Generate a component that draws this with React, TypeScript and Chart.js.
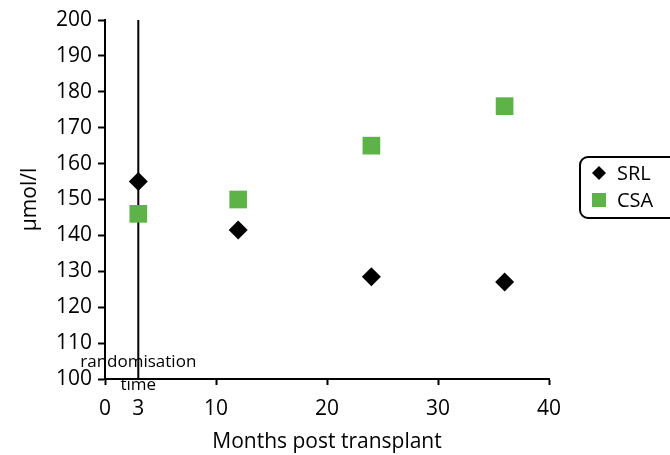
import React, { useEffect, useRef } from "react";
import { Chart, registerables } from "chart.js";

Chart.register(...registerables);

const months = [3, 12, 24, 36];
const srlValues = [155, 141.5, 128.5, 127];
const csaValues = [146, 150, 165, 176];
const xTicks = [0, 3, 10, 20, 30, 40];
const randomisationMonth = 3;
const randomisationLines = ["randomisation", "time"];
const seriesLabels = ["SRL", "CSA"];
const seriesColors = ["#000000", "#5DB248"];
const seriesStyles = ["rectRot", "rect"];
const yMin = 100;
const yMax = 200;
const yStep = 10;
const xMin = 0;
const xMax = 40;
const xTitle = "Months post transplant";
const yTitle = "μmol/l";

const FONT = '"Open Sans", "Noto Sans", sans-serif';

const overlayPlugin = {
  id: "overlay",
  afterDraw(chart: any) {
    const ctx = chart.ctx;
    const xs = chart.scales.x;
    const ys = chart.scales.y;
    ctx.save();
    // annotation text
    ctx.font = `17px ${FONT}`;
    ctx.fillStyle = "#000";
    ctx.textAlign = "center";
    ctx.textBaseline = "middle";
    const px = xs.getPixelForValue(randomisationMonth);
    ctx.fillText(randomisationLines[0], px, ys.bottom - 17);
    ctx.fillText(randomisationLines[1], px, ys.bottom + 6);

    // legend box
    const bx = 580, by = 157, bw = 104, bh = 61, r = 8;
    ctx.lineWidth = 2;
    ctx.strokeStyle = "#000";
    ctx.beginPath();
    ctx.moveTo(bx + r, by);
    ctx.lineTo(bx + bw - r, by);
    ctx.arcTo(bx + bw, by, bx + bw, by + r, r);
    ctx.lineTo(bx + bw, by + bh - r);
    ctx.arcTo(bx + bw, by + bh, bx + bw - r, by + bh, r);
    ctx.lineTo(bx + r, by + bh);
    ctx.arcTo(bx, by + bh, bx, by + bh - r, r);
    ctx.lineTo(bx, by + r);
    ctx.arcTo(bx, by, bx + r, by, r);
    ctx.closePath();
    ctx.stroke();

    ctx.font = `20px ${FONT}`;
    ctx.textAlign = "left";
    seriesLabels.forEach((lab, i) => {
      const cy = by + 16 + i * 27;
      const cx = bx + 19;
      ctx.fillStyle = seriesColors[i];
      if (seriesStyles[i] === "rectRot") {
        ctx.beginPath();
        ctx.moveTo(cx, cy - 7);
        ctx.lineTo(cx + 7, cy);
        ctx.lineTo(cx, cy + 7);
        ctx.lineTo(cx - 7, cy);
        ctx.closePath();
        ctx.fill();
      } else {
        ctx.fillRect(cx - 7, cy - 7, 14, 14);
      }
      ctx.fillStyle = "#000";
      ctx.fillText(lab, bx + 37, cy + 1);
    });
    ctx.restore();
  },
};

export default function App() {
  const ref = useRef<HTMLCanvasElement | null>(null);
  useEffect(() => {
    document.body.style.margin = "0";
    const canvas = ref.current!;
    const datasets: any[] = [
      {
        label: seriesLabels[0],
        data: months.map((m, i) => ({ x: m, y: srlValues[i] })),
        backgroundColor: seriesColors[0],
        borderColor: seriesColors[0],
        pointStyle: seriesStyles[0],
        pointRadius: 9.5,
        borderWidth: 0,
      },
      {
        label: seriesLabels[1],
        data: months.map((m, i) => ({ x: m, y: csaValues[i] })),
        backgroundColor: seriesColors[1],
        borderColor: seriesColors[1],
        pointStyle: seriesStyles[1],
        pointRadius: 12.5,
        borderWidth: 0,
      },
      {
        label: "randomisation",
        data: [
          { x: randomisationMonth, y: yMin },
          { x: randomisationMonth, y: yMax },
        ],
        showLine: true,
        borderColor: "#000",
        borderWidth: 2,
        pointRadius: 0,
      },
    ];
    const chart = new Chart(canvas, {
      type: "scatter",
      data: { datasets },
      options: {
        responsive: false,
        animation: false,
        devicePixelRatio: 1,
        layout: { padding: { left: 0, top: 20, right: 121, bottom: 0 } },
        plugins: { legend: { display: false }, tooltip: { enabled: false } },
        scales: {
          x: {
            type: "linear",
            min: xMin,
            max: xMax,
            afterBuildTicks: (s: any) => {
              s.ticks = xTicks.map((v) => ({ value: v }));
            },
            afterFit: (s: any) => {
              s.height = 76;
            },
            grid: {
              drawOnChartArea: false,
              drawTicks: true,
              tickLength: 6,
              tickWidth: 2,
              tickColor: (c: any) =>
                c.tick && c.tick.value === randomisationMonth ? "rgba(0,0,0,0)" : "#000",
            },
            border: { display: true, color: "#000", width: 2 },
            ticks: {
              color: "#000",
              font: { family: FONT, size: 21 },
              padding: 11,
              autoSkip: false,
              maxRotation: 0,
              callback: (v: any) => String(v),
            },
            title: {
              display: true,
              text: xTitle,
              color: "#000",
              font: { family: FONT, size: 21 },
              padding: { top: 0, bottom: 0 },
            },
          },
          y: {
            type: "linear",
            min: yMin,
            max: yMax,
            afterFit: (s: any) => {
              s.width = 105;
            },
            grid: {
              drawOnChartArea: false,
              drawTicks: true,
              tickLength: 7,
              tickWidth: 2,
              tickColor: "#000",
            },
            border: { display: true, color: "#000", width: 2 },
            ticks: {
              stepSize: yStep,
              color: "#000",
              font: { family: FONT, size: 21 },
              padding: 6,
            },
            title: {
              display: true,
              text: yTitle,
              color: "#000",
              font: { family: FONT, size: 21 },
              padding: { top: 17, bottom: 0 },
            },
          },
        },
      },
      plugins: [overlayPlugin],
    });
    return () => chart.destroy();
  }, []);
  return <canvas ref={ref} width={670} height={455} style={{ display: "block" }} />;
}
